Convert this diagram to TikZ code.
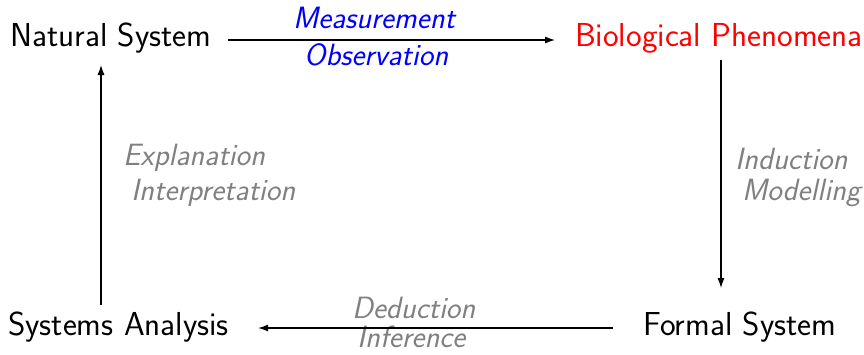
\documentclass[tikz,border=0pt]{standalone}
\usetikzlibrary{arrows.meta}
\renewcommand{\familydefault}{\sfdefault}
\begin{document}
\begin{tikzpicture}[x=1pt,y=-1pt,
  main/.style={inner sep=0pt,anchor=base west,font=\fontsize{33.2}{40}\selectfont},
  lbl/.style={inner sep=0pt,anchor=base west,font=\fontsize{30.8}{37}\selectfont\itshape},
  arr/.style={-{Latex[length=10pt,width=7pt]},line width=1.1pt}]
\useasboundingbox (0,0) rectangle (864,354);
\node[main] (ns) at (10,46) {Natural System};
\node[main,text=red] (bp) at (575,46) {Biological Phenomena};
\node[main] (fs) at (643,335) {Formal System};
\node[main] (sa) at (8,335) {Systems Analysis};
\node[lbl,text=blue] (m) at (293,28.5) {Measurement};
\node[lbl,text=blue] (o) at (304,65) {Observation};
\node[lbl,text=gray] (d) at (352,318) {Deduction};
\node[lbl,text=gray] (inf) at (357,347) {Inference};
\node[lbl,text=gray] (ex) at (123,165) {Explanation};
\node[lbl,text=gray] (ip) at (131,200) {Interpretation};
\node[lbl,text=gray] (ind) at (735,169) {Induction};
\node[lbl,text=gray] (mod) at (742,200) {Modelling};
\coordinate (rtop) at ([shift={(146,14)}]bp.base west);
\coordinate (rbot) at (rtop |- fs.base west);
\coordinate (lbot) at ([shift={(93,-30)}]sa.base west);
\coordinate (ltop) at (lbot |- ns.base west);
\draw[arr] ([shift={(16,-6)}]ns.base east) -- ([shift={(-20,-6)}]bp.base west);
\draw[arr] (rtop) -- ([shift={(0,-47)}]rbot);
\draw[arr] ([shift={(-30,-7)}]fs.base west) -- ([shift={(29,-7)}]sa.base east);
\draw[arr] (lbot) -- ([shift={(0,19)}]ltop);
\end{tikzpicture}
\end{document}
